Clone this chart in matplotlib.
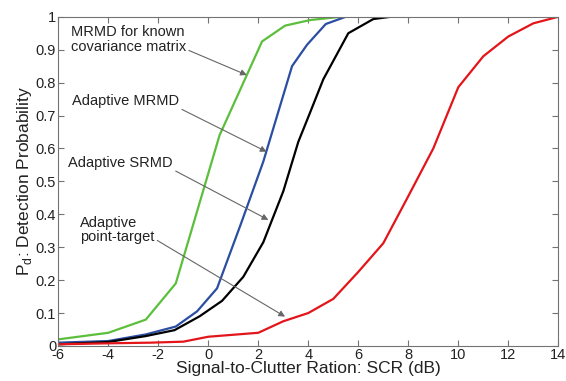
import matplotlib
matplotlib.use('Agg')
from matplotlib import pyplot as plt

plt.rcParams['font.family'] = ['Liberation Sans', 'DejaVu Sans']
plt.rcParams['axes.unicode_minus'] = False

# SCR (dB) / detection probability
green_x = [-6, -4, -2.5, -1.3, 0.45, 2.15, 3.07, 4.07, 5.3, 14]
green_y = [0.02, 0.04, 0.08, 0.19, 0.64, 0.925, 0.973, 0.99, 1.0, 1.0]

blue_x = [-6, -4, -2.5, -1.3, -0.45, 0.35, 1.3, 2.2, 3.35, 3.95, 4.7, 5.5, 14]
blue_y = [0.01, 0.015, 0.035, 0.059, 0.105, 0.175, 0.37, 0.56, 0.85, 0.915, 0.978, 1.0, 1.0]

black_x = [-6, -4, -2.5, -1.35, -0.35, 0.55, 1.4, 2.2, 3.0, 3.6, 4.05, 4.6, 5.6, 6.6, 7.3, 14]
black_y = [0.005, 0.012, 0.03, 0.048, 0.09, 0.137, 0.21, 0.315, 0.47, 0.62, 0.705, 0.81, 0.95, 0.993, 1.0, 1.0]

red_x = [-6, -4, -2.3, -1, 0, 2, 3, 4, 5, 6, 7, 8, 9, 10, 11, 12, 13, 14]
red_y = [0.005, 0.008, 0.01, 0.013, 0.028, 0.04, 0.075, 0.10, 0.143, 0.225, 0.312, 0.455, 0.6, 0.786, 0.88, 0.94, 0.98, 1.0]

xticks = list(range(-6, 15, 2))
yticks = [0, 0.1, 0.2, 0.3, 0.4, 0.5, 0.6, 0.7, 0.8, 0.9, 1]

fig = plt.figure(figsize=(5.66, 3.81), dpi=100)
ax = fig.add_axes([0.103, 0.092, 0.8834, 0.864])

ax.plot(green_x, green_y, color='#5cbf3c', lw=1.6)
ax.plot(blue_x, blue_y, color='#2b4ea2', lw=1.6)
ax.plot(black_x, black_y, color='black', lw=1.6)
ax.plot(red_x, red_y, color='#e3151b', lw=1.6)

ax.set_xlim(-6, 14)
ax.set_ylim(0, 1)
ax.set_xticks(xticks)
ax.set_yticks(yticks)
ax.set_yticklabels(['%g' % v for v in yticks])
ax.tick_params(direction='in', top=True, right=True, length=4, width=0.8,
               color='0.45', labelsize=10.5, labelcolor='#222222', pad=1.5)
for s in ax.spines.values():
    s.set_color('0.45')
    s.set_linewidth(0.8)

ax.set_xlabel('Signal-to-Clutter Ration: SCR (dB)', fontsize=12.5, color='#222222', labelpad=-1)
ax.set_ylabel('P$_\\mathregular{d}$: Detection Probability', fontsize=12.5, color='#222222', labelpad=1)

arrow = dict(arrowstyle='-|>', color='0.4', lw=0.8, mutation_scale=9, shrinkA=0, shrinkB=0)
ax.annotate('MRMD for known\ncovariance matrix', xy=(1.54, 0.823), xytext=(-5.5, 0.975),
            ha='left', va='top', fontsize=10.5, color='#222222', linespacing=1.05,
            arrowprops=dict(arrow, relpos=(1.0, 0.15)))
ax.annotate('Adaptive MRMD', xy=(2.33, 0.59), xytext=(-5.45, 0.744),
            ha='left', va='center', fontsize=10.5, color='#222222',
            arrowprops=dict(arrow, relpos=(1.0, 0.0)))
ax.annotate('Adaptive SRMD', xy=(2.4, 0.383), xytext=(-5.6, 0.557),
            ha='left', va='center', fontsize=10.5, color='#222222',
            arrowprops=dict(arrow, relpos=(1.0, 0.0)))
ax.annotate('Adaptive\npoint-target', xy=(3.07, 0.089), xytext=(-5.13, 0.395),
            ha='left', va='top', fontsize=10.5, color='#222222', linespacing=1.05,
            arrowprops=dict(arrow, relpos=(1.0, 0.2)))

fig.savefig('out.png', dpi=100)
